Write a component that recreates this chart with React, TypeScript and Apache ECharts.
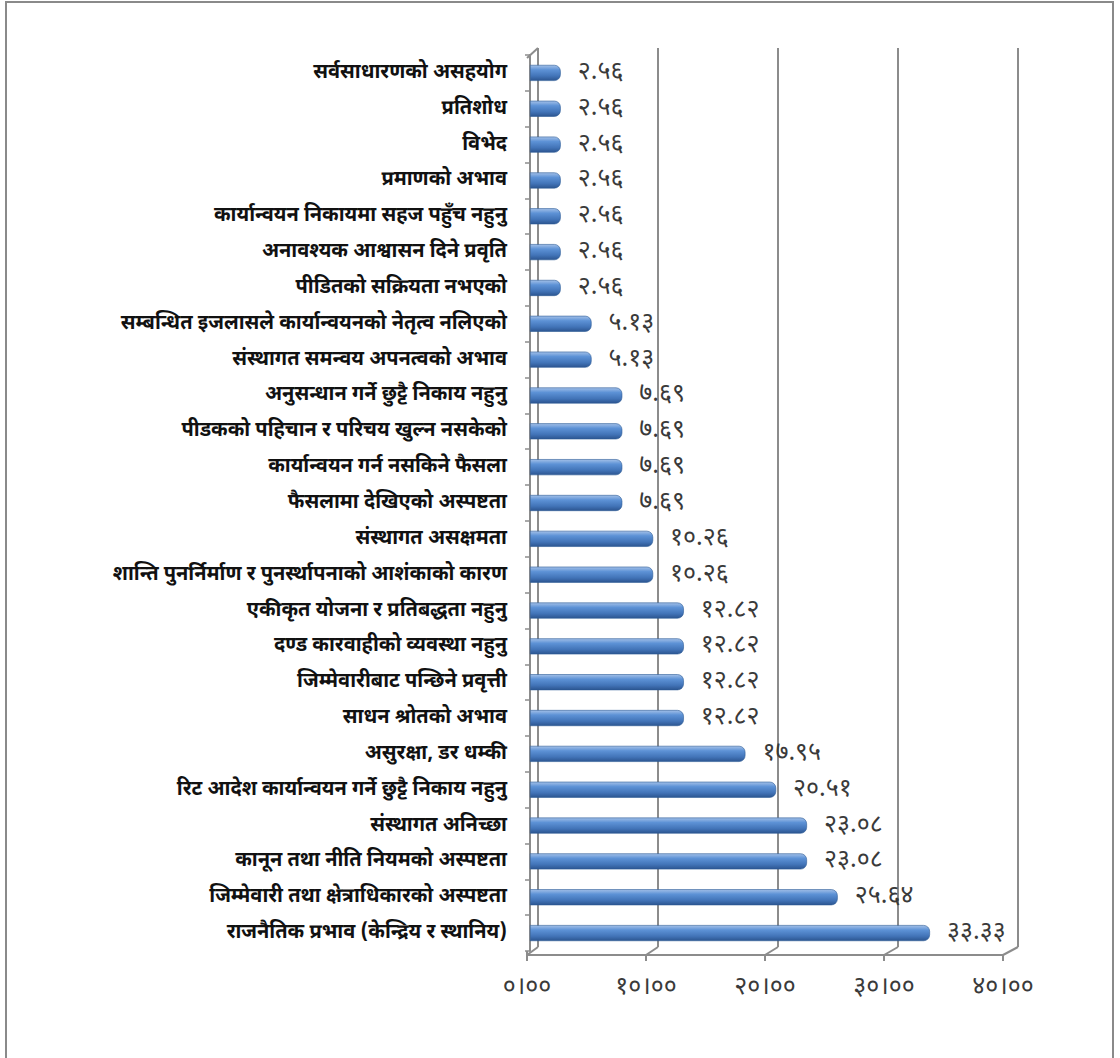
import React, { useEffect, useRef } from "react";
import * as echarts from "echarts";

// Categories, top to bottom
const categories: string[] = [
  "सर्वसाधारणको असहयोग",
  "प्रतिशोध",
  "विभेद",
  "प्रमाणको अभाव",
  "कार्यान्वयन निकायमा सहज पहुँच नहुनु",
  "अनावश्यक आश्वासन दिने प्रवृति",
  "पीडितको सक्रियता नभएको",
  "सम्बन्धित इजलासले कार्यान्वयनको नेतृत्व नलिएको",
  "संस्थागत समन्वय अपनत्वको अभाव",
  "अनुसन्धान गर्ने छुट्टै निकाय नहुनु",
  "पीडकको पहिचान र परिचय खुल्न नसकेको",
  "कार्यान्वयन गर्न नसकिने फैसला",
  "फैसलामा देखिएको अस्पष्टता",
  "संस्थागत असक्षमता",
  "शान्ति पुनर्निर्माण र पुनर्स्थापनाको आशंकाको कारण",
  "एकीकृत योजना र प्रतिबद्धता नहुनु",
  "दण्ड कारवाहीको व्यवस्था नहुनु",
  "जिम्मेवारीबाट पन्छिने प्रवृत्ती",
  "साधन श्रोतको अभाव",
  "असुरक्षा, डर धम्की",
  "रिट आदेश कार्यान्वयन गर्ने छुट्टै निकाय नहुनु",
  "संस्थागत अनिच्छा",
  "कानून तथा नीति नियमको अस्पष्टता",
  "जिम्मेवारी तथा क्षेत्राधिकारको अस्पष्टता",
  "राजनैतिक प्रभाव (केन्द्रिय र स्थानिय)",
];

const values: number[] = [
  2.56, 2.56, 2.56, 2.56, 2.56, 2.56, 2.56,
  5.13, 5.13,
  7.69, 7.69, 7.69, 7.69,
  10.26, 10.26,
  12.82, 12.82, 12.82, 12.82,
  17.95, 20.51, 23.08, 23.08, 25.64, 33.33,
];

const xTicks: number[] = [0, 10, 20, 30, 40];
const xTickLabels: string[] = ["०।००", "१०।००", "२०।००", "३०।००", "४०।००"];

const DEV_DIGITS = "०१२३४५६७८९";
const toDev = (s: string) => s.replace(/[0-9]/g, (d) => DEV_DIGITS[Number(d)]);

const DEV_FONT =
  "'Noto Sans Devanagari', 'Noto Serif Devanagari', 'Lohit Devanagari', Mangal, 'Noto Sans', sans-serif";

export default function App() {
  const ref = useRef<HTMLDivElement>(null);

  useEffect(() => {
    if (!ref.current) return;
    const chart = echarts.init(ref.current, undefined, { renderer: "svg" });
    const gray = "#8c8c8c";

    // floor slants at each gridline (decoration)
    const slants = xTicks.map((t, i) => ({
      type: "line",
      shape: { x1: 538 + 120 * i, y1: 947, x2: 527 + 119 * i, y2: 955 },
      style: { stroke: gray, lineWidth: 2 },
      silent: true,
    }));

    chart.setOption({
      animation: false,
      backgroundColor: "#ffffff",
      grid: [
        { left: 530, top: 55, width: 480, height: 896, containLabel: false },
        { left: 538, top: 48, width: 480, height: 899, containLabel: false },
        { left: 527, top: 48, width: 476, height: 907, containLabel: false },
      ],
      xAxis: [
        {
          gridIndex: 0,
          type: "value",
          min: xTicks[0],
          max: xTicks[xTicks.length - 1],
          interval: 10,
          show: false,
        },
        {
          gridIndex: 1,
          type: "value",
          min: xTicks[0],
          max: xTicks[xTicks.length - 1],
          interval: 10,
          axisLine: { show: false },
          axisTick: { show: false },
          axisLabel: { show: false },
          splitLine: { show: true, lineStyle: { color: gray, width: 2 } },
        },
        {
          gridIndex: 2,
          type: "value",
          min: xTicks[0],
          max: xTicks[xTicks.length - 1],
          interval: 10,
          axisLine: { show: true, lineStyle: { color: gray, width: 2 } },
          axisTick: { show: true, length: 6, lineStyle: { color: gray, width: 2 } },
          axisLabel: {
            margin: 20,
            fontSize: 25,
            color: "#3a3a3a",
            fontFamily: DEV_FONT,
            formatter: (v: number) => xTickLabels[xTicks.indexOf(v)] ?? "",
          },
          splitLine: { show: false },
        },
      ],
      yAxis: [
        {
          gridIndex: 0,
          type: "category",
          data: categories,
          inverse: true,
          offset: 3,
          axisLine: { show: true, lineStyle: { color: gray, width: 2 } },
          axisTick: { show: true, length: 5, lineStyle: { color: gray, width: 1.5 } },
          axisLabel: {
            margin: 20,
            fontSize: 20,
            fontWeight: "bold",
            color: "#111111",
            fontFamily: DEV_FONT,
            interval: 0,
          },
          splitLine: { show: false },
        },
        { gridIndex: 1, type: "category", data: categories, inverse: true, show: false },
        { gridIndex: 2, type: "category", data: categories, inverse: true, show: false },
      ],
      series: [
        {
          type: "bar",
          xAxisIndex: 0,
          yAxisIndex: 0,
          data: values,
          barWidth: 16,
          itemStyle: {
            borderRadius: [0, 6, 6, 0],
            borderColor: "#2b5a96",
            borderWidth: 0.6,
            color: new echarts.graphic.LinearGradient(0, 0, 0, 1, [
              { offset: 0, color: "#a3c0e8" },
              { offset: 0.3, color: "#5d92d6" },
              { offset: 0.7, color: "#4274b8" },
              { offset: 1, color: "#2c5590" },
            ]),
          },
          label: {
            show: true,
            position: "right",
            distance: 17,
            fontSize: 25,
            color: "#3a3a3a",
            fontFamily: DEV_FONT,
            formatter: (p: any) => toDev(values[p.dataIndex].toFixed(2)),
          },
        },
      ],
      graphic: [
        {
          type: "rect",
          shape: { x: 6, y: 2, width: 1107, height: 1100 },
          style: { fill: "none", stroke: "#8a8a8a", lineWidth: 2 },
          silent: true,
          z: -1,
        },
        {
          type: "line",
          shape: { x1: 527, y1: 58, x2: 538, y2: 48 },
          style: { stroke: gray, lineWidth: 2 },
          silent: true,
        },
        {
          type: "line",
          shape: { x1: 527, y1: 951, x2: 527, y2: 955 },
          style: { stroke: gray, lineWidth: 2 },
          silent: true,
        },
        ...slants,
      ],
    });

    return () => chart.dispose();
  }, []);

  return (
    <div
      ref={ref}
      style={{ position: "absolute", left: 0, top: 0, width: 1120, height: 1058 }}
    />
  );
}
